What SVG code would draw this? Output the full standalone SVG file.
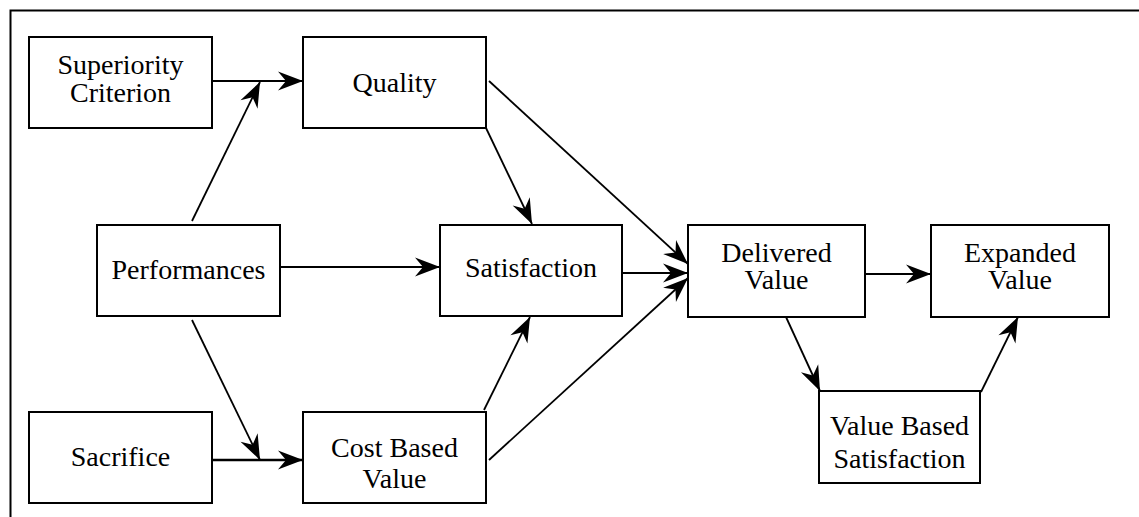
<svg xmlns="http://www.w3.org/2000/svg" width="1139" height="517" viewBox="0 0 1139 517">
<defs>
<marker id="ah" viewBox="-26 -11 27 22" refX="0" refY="0" markerWidth="27" markerHeight="22" markerUnits="userSpaceOnUse" orient="auto">
<path d="M0,0 L-25,-9.5 L-17,0 L-25,9.5 Z" fill="#000"/>
</marker>
</defs>
<rect width="1139" height="517" fill="#fff"/>
<path d="M10.5,517 V10.5 H1139" fill="none" stroke="#000" stroke-width="2"/>
<g text-anchor="middle" fill="#000">
<g id="n-superiority"><rect x="29" y="37" width="183" height="91" fill="#fff" stroke="#000" stroke-width="2"/><text font-family="Liberation Serif" font-size="28" x="120.5" y="74">Superiority</text><text font-family="Liberation Serif" font-size="28" x="120.5" y="102">Criterion</text></g>
<g id="n-quality"><rect x="303" y="37" width="183" height="91" fill="#fff" stroke="#000" stroke-width="2"/><text font-family="Liberation Serif" font-size="28" x="394.5" y="92">Quality</text></g>
<g id="n-performances"><rect x="97" y="225" width="183" height="91" fill="#fff" stroke="#000" stroke-width="2"/><text font-family="Liberation Serif" font-size="28" x="188.5" y="279">Performances</text></g>
<g id="n-satisfaction"><rect x="440" y="225" width="182" height="91" fill="#fff" stroke="#000" stroke-width="2"/><text font-family="Liberation Serif" font-size="28" x="531" y="277">Satisfaction</text></g>
<g id="n-delivered"><rect x="688" y="225" width="177" height="92" fill="#fff" stroke="#000" stroke-width="2"/><text font-family="Liberation Serif" font-size="28" x="776.5" y="262">Delivered</text><text font-family="Liberation Serif" font-size="28" x="776.5" y="289">Value</text></g>
<g id="n-expanded"><rect x="931" y="225" width="178" height="92" fill="#fff" stroke="#000" stroke-width="2"/><text font-family="Liberation Serif" font-size="28" x="1020" y="262">Expanded</text><text font-family="Liberation Serif" font-size="28" x="1020" y="289">Value</text></g>
<g id="n-sacrifice"><rect x="29" y="412" width="183" height="91" fill="#fff" stroke="#000" stroke-width="2"/><text font-family="Liberation Serif" font-size="28" x="120.5" y="466">Sacrifice</text></g>
<g id="n-cost"><rect x="303" y="412" width="183" height="91" fill="#fff" stroke="#000" stroke-width="2"/><text font-family="Liberation Serif" font-size="28" x="394.5" y="457">Cost Based</text><text font-family="Liberation Serif" font-size="28" x="394.5" y="488">Value</text></g>
<g id="n-vbs"><rect x="819" y="391" width="161" height="92" fill="#fff" stroke="#000" stroke-width="2"/><text font-family="Liberation Serif" font-size="28" x="899.5" y="435">Value Based</text><text font-family="Liberation Serif" font-size="28" x="899.5" y="468">Satisfaction</text></g>
</g>
<g id="connectors" stroke="#000" stroke-width="1.8" fill="none" marker-end="url(#ah)">
<line x1="212" y1="81" x2="303" y2="81"/>
<line x1="192" y1="221" x2="260" y2="82"/>
<line x1="281" y1="267" x2="440" y2="267"/>
<line x1="192" y1="320" x2="260" y2="460"/>
<line x1="212" y1="460" x2="303" y2="460" stroke-width="2.6"/>
<line x1="486" y1="128" x2="532" y2="224"/>
<line x1="489" y1="81" x2="688" y2="264"/>
<line x1="622" y1="273" x2="688" y2="273"/>
<line x1="484" y1="410" x2="530" y2="317"/>
<line x1="489" y1="460" x2="688" y2="278"/>
<line x1="865" y1="274" x2="931" y2="274"/>
<line x1="786" y1="317" x2="820" y2="391"/>
<line x1="981" y1="392" x2="1018" y2="317"/>
</g>
</svg>
